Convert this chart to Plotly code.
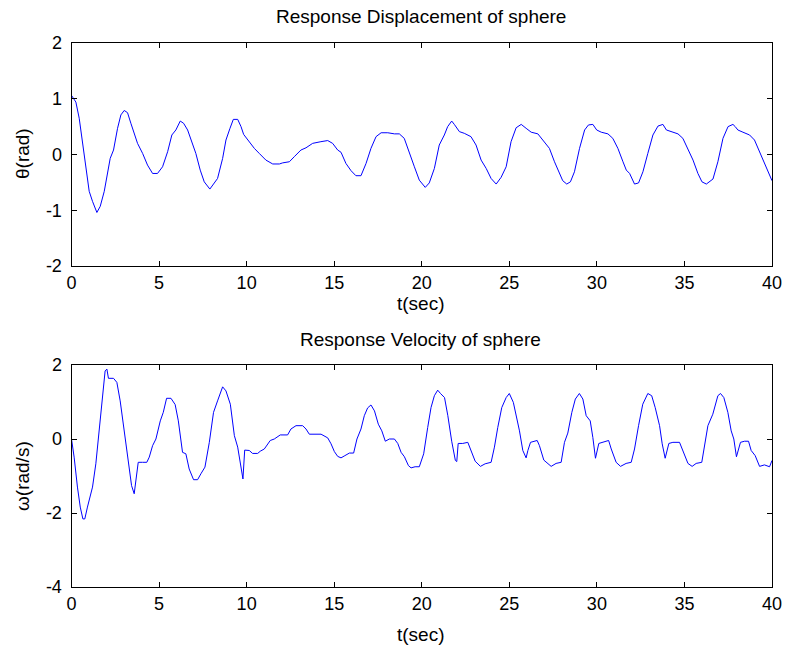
import plotly.graph_objects as go

# Displacement (theta, rad) vs time (s)
t_disp = [0, 0.25, 0.44, 0.63, 0.76, 1.01, 1.2, 1.45, 1.64, 1.87, 2.21, 2.4, 2.63, 2.82, 3.01, 3.2, 3.39, 3.58,
          3.77, 4.06, 4.34, 4.63, 4.91, 5.2, 5.49, 5.73, 5.96, 6.21, 6.4, 6.63, 6.91, 7.1, 7.35, 7.58, 7.9, 8.15,
          8.34, 8.63, 8.82, 9.05, 9.24, 9.49, 9.68, 9.83, 10.15, 10.44, 10.72, 11.1, 11.49, 11.87, 12.06, 12.44,
          12.72, 13.1, 13.39, 13.77, 14.24, 14.63, 14.91, 15.2, 15.39, 15.67, 15.96, 16.24, 16.53, 16.82, 17.1,
          17.39, 17.68, 18.06, 18.44, 18.72, 19.0, 19.29, 19.58, 19.86, 20.2, 20.43, 20.72, 21.0, 21.29, 21.48,
          21.71, 21.86, 22.15, 22.43, 22.81, 23.1, 23.39, 23.68, 23.96, 24.25, 24.53, 24.82, 25.1, 25.39, 25.68,
          25.96, 26.25, 26.63, 27.0, 27.29, 27.58, 27.87, 28.05, 28.28, 28.49, 28.72, 29.01, 29.3, 29.52, 29.77,
          29.99, 30.25, 30.63, 30.91, 31.2, 31.49, 31.68, 31.87, 32.15, 32.38, 32.63, 32.91, 33.2, 33.49, 33.77,
          33.97, 34.25, 34.63, 34.91, 35.2, 35.49, 35.77, 36.0, 36.25, 36.63, 36.91, 37.2, 37.49, 37.77, 37.9,
          38.05, 38.34, 38.72, 39.0, 39.29, 39.58, 39.86, 40.0]
theta = [1.06, 0.94, 0.65, 0.23, -0.13, -0.66, -0.84, -1.04, -0.93, -0.66, -0.07, 0.08, 0.47, 0.71, 0.79, 0.75,
         0.56, 0.38, 0.2, 0.02, -0.19, -0.34, -0.34, -0.22, 0.05, 0.35, 0.44, 0.6, 0.56, 0.44, 0.17, 0.02, -0.28,
         -0.49, -0.62, -0.52, -0.43, -0.07, 0.26, 0.47, 0.63, 0.63, 0.5, 0.36, 0.23, 0.11, 0.02, -0.1, -0.17,
         -0.17, -0.15, -0.13, -0.04, 0.08, 0.12, 0.2, 0.23, 0.25, 0.2, 0.08, 0.04, -0.16, -0.29, -0.38, -0.38,
         -0.16, 0.11, 0.32, 0.39, 0.39, 0.37, 0.37, 0.29, 0.05, -0.22, -0.46, -0.59, -0.51, -0.25, 0.17, 0.35,
         0.5, 0.6, 0.54, 0.41, 0.38, 0.32, 0.17, -0.1, -0.25, -0.43, -0.53, -0.41, -0.22, 0.23, 0.48, 0.54, 0.47,
         0.4, 0.37, 0.23, 0.11, -0.13, -0.34, -0.47, -0.53, -0.49, -0.31, 0.11, 0.44, 0.53, 0.54, 0.44, 0.4, 0.37,
         0.29, 0.11, -0.13, -0.28, -0.34, -0.53, -0.51, -0.31, 0.02, 0.35, 0.51, 0.54, 0.44, 0.41, 0.37, 0.29,
         0.08, -0.1, -0.34, -0.49, -0.53, -0.44, -0.13, 0.29, 0.5, 0.54, 0.5, 0.44, 0.4, 0.35, 0.26, 0.05, -0.19,
         -0.37, -0.47]

# Velocity (omega, rad/s) vs time (s)
t_vel = [0, 0.15, 0.34, 0.5, 0.65, 0.76, 0.91, 1.07, 1.2, 1.39, 1.58, 1.77, 1.92, 2.02, 2.11, 2.4, 2.59, 2.78,
         3.01, 3.2, 3.43, 3.58, 3.68, 3.81, 4.06, 4.3, 4.44, 4.63, 4.82, 5.07, 5.24, 5.43, 5.68, 5.92, 6.1, 6.34,
         6.53, 6.72, 6.97, 7.2, 7.39, 7.62, 7.87, 8.11, 8.34, 8.63, 8.82, 9.07, 9.3, 9.49, 9.79, 9.89, 10.15,
         10.34, 10.63, 10.78, 11.01, 11.35, 11.58, 11.92, 12.34, 12.53, 12.82, 13.2, 13.39, 13.58, 14.25, 14.63,
         14.82, 15.01, 15.2, 15.39, 15.61, 15.87, 16.11, 16.3, 16.53, 16.72, 16.91, 17.1, 17.3, 17.52, 17.72,
         17.92, 18.15, 18.44, 18.63, 18.82, 19.01, 19.24, 19.39, 19.62, 19.86, 20.11, 20.34, 20.53, 20.72, 20.91,
         21.07, 21.3, 21.49, 21.71, 21.92, 22.0, 22.08, 22.34, 22.63, 22.82, 23.05, 23.35, 23.62, 23.96, 24.15,
         24.34, 24.57, 24.82, 25.0, 25.23, 25.58, 25.77, 25.96, 26.06, 26.21, 26.59, 26.72, 26.97, 27.2, 27.39,
         27.67, 27.96, 28.15, 28.34, 28.57, 28.77, 29.0, 29.2, 29.39, 29.62, 29.77, 29.92, 30.11, 30.34, 30.67,
         30.82, 31.1, 31.35, 31.67, 31.96, 32.15, 32.38, 32.62, 32.91, 33.13, 33.33, 33.58, 33.73, 33.9, 34.11,
         34.34, 34.72, 34.97, 35.2, 35.44, 35.67, 35.99, 36.15, 36.34, 36.62, 36.91, 37.06, 37.25, 37.48, 37.67,
         37.82, 37.97, 38.2, 38.43, 38.66, 38.81, 39.04, 39.29, 39.57, 39.86, 40.0]
omega = [0, -0.49, -1.3, -1.84, -2.16, -2.16, -1.84, -1.53, -1.3, -0.67, 0.31, 1.12, 1.84, 1.89, 1.64, 1.64,
         1.53, 1.03, 0.22, -0.49, -1.26, -1.48, -1.03, -0.63, -0.63, -0.63, -0.49, -0.18, 0, 0.49, 0.72, 1.1, 1.1,
         0.93, 0.49, -0.36, -0.4, -0.81, -1.1, -1.1, -0.94, -0.76, -0.09, 0.72, 1.03, 1.41, 1.3, 0.94, 0.09,
         -0.22, -1.08, -0.3, -0.31, -0.39, -0.39, -0.33, -0.27, -0.04, 0, 0.11, 0.11, 0.27, 0.36, 0.36, 0.27,
         0.13, 0.13, 0.03, -0.13, -0.34, -0.47, -0.51, -0.45, -0.38, -0.38, 0, 0.27, 0.63, 0.84, 0.92, 0.76, 0.4,
         0.22, -0.06, 0, 0, -0.12, -0.36, -0.48, -0.72, -0.78, -0.75, -0.75, -0.4, 0.31, 0.85, 1.17, 1.32, 1.23,
         1.12, 0.63, -0.06, -0.58, -0.61, -0.12, -0.12, -0.09, -0.31, -0.6, -0.74, -0.67, -0.63, -0.22, 0.31,
         0.85, 1.12, 1.23, 0.99, 0.22, -0.31, -0.51, -0.31, -0.09, -0.04, -0.18, -0.57, -0.66, -0.74, -0.66,
         -0.63, -0.09, 0.16, 0.72, 1.08, 1.23, 1.08, 0.63, 0.49, 0.04, -0.52, -0.12, -0.09, -0.04, -0.27, -0.63,
         -0.74, -0.66, -0.63, -0.27, 0.36, 0.94, 1.23, 1.17, 0.85, 0.36, -0.13, -0.52, -0.12, -0.09, -0.09, -0.4,
         -0.66, -0.74, -0.66, -0.63, -0.22, 0.36, 0.67, 1.17, 1.23, 1.12, 0.72, 0.22, 0, -0.48, -0.09, -0.06,
         -0.06, -0.31, -0.45, -0.74, -0.7, -0.75, -0.58]

x_ticks = [0, 5, 10, 15, 20, 25, 30, 35, 40]
y1_ticks = [-2, -1, 0, 1, 2]
y2_ticks = [-4, -2, 0, 2]

W, H = 787, 649
FONT = "Liberation Sans, Arial, sans-serif"
TICK_SIZE = 18
LABEL_SIZE = 19

fig = go.Figure()
fig.add_trace(go.Scatter(x=t_disp, y=theta, mode="lines", line=dict(color="#0000ff", width=1),
                         xaxis="x", yaxis="y", showlegend=False, hoverinfo="skip"))
fig.add_trace(go.Scatter(x=t_vel, y=omega, mode="lines", line=dict(color="#0000ff", width=1),
                         xaxis="x2", yaxis="y2", showlegend=False, hoverinfo="skip"))

xd = [71.5 / W, 772 / W]
top_dom = [(H - 266) / H, (H - 43) / H]
bot_dom = [(H - 587) / H, (H - 365) / H]

axis_common = dict(showline=True, linecolor="black", linewidth=1, mirror="allticks", ticks="inside",
                   ticklen=5, tickcolor="black", showgrid=False, zeroline=False, automargin=False,
                   tickfont=dict(family=FONT, size=TICK_SIZE, color="black"))

def labels(vals):
    return [str(v) for v in vals]

fig.update_layout(
    width=W, height=H, margin=dict(l=0, r=0, t=0, b=0, pad=0, autoexpand=False),
    paper_bgcolor="white", plot_bgcolor="white",
    xaxis=dict(domain=xd, range=[0, 40], tickvals=x_ticks, ticktext=labels(x_ticks), anchor="y",
               **axis_common),
    yaxis=dict(domain=top_dom, range=[-2, 2], tickvals=y1_ticks, ticktext=labels(y1_ticks), anchor="x",
               ticklabelstandoff=5, **axis_common),
    xaxis2=dict(domain=xd, range=[0, 40], tickvals=x_ticks, ticktext=labels(x_ticks), anchor="y2",
                **axis_common),
    yaxis2=dict(domain=bot_dom, range=[-4, 2], tickvals=y2_ticks, ticktext=labels(y2_ticks), anchor="x2",
                ticklabelstandoff=5, **axis_common),
)

def ann(text, x, y, angle=0):
    fig.add_annotation(text=text, x=x / W, y=1 - y / H, xref="paper", yref="paper", showarrow=False,
                       xanchor="center", yanchor="middle", textangle=angle,
                       font=dict(family=FONT, size=LABEL_SIZE, color="black"))

ann("Response Displacement of sphere", 421, 17)
ann("t(sec)", 421, 303)
ann("θ(rad)", 22, 154, -90)
ann("Response Velocity of sphere", 421, 339)
ann("t(sec)", 421, 634)
ann("ω(rad/s)", 22, 476, -90)

fig.write_html("out.html")
